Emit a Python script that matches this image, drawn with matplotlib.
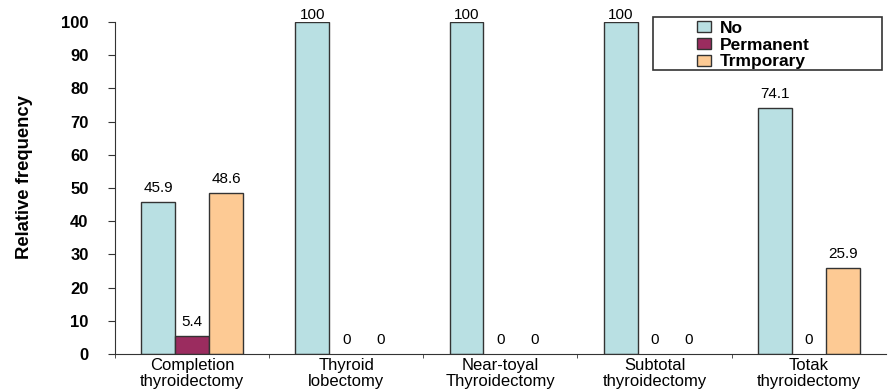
import matplotlib
matplotlib.use("Agg")
import matplotlib.pyplot as plt
from matplotlib.patches import Rectangle
import numpy as np

categories = ["Completion\nthyroidectomy", "Thyroid\nlobectomy", "Near-toyal\nThyroidectomy",
              "Subtotal\nthyroidectomy", "Totak\nthyroidectomy"]
series_names = ["No", "Permanent", "Trmporary"]
no_vals = [45.9, 100, 100, 100, 74.1]
permanent_vals = [5.4, 0, 0, 0, 0]
temporary_vals = [48.6, 0, 0, 0, 25.9]
value_labels = [["45.9", "100", "100", "100", "74.1"],
                ["5.4", "0", "0", "0", "0"],
                ["48.6", "0", "0", "0", "25.9"]]
yticks = [0, 10, 20, 30, 40, 50, 60, 70, 80, 90, 100]
colors = ["#b9e0e3", "#9b2c5f", "#fdca94"]

plt.rcParams['font.family'] = ['Liberation Sans', 'DejaVu Sans']

fig = plt.figure(figsize=(8.88, 3.92), dpi=100)
ax = fig.add_axes([0.1295, 0.097, 0.868, 0.847])

x = np.arange(len(categories))
w = 0.22
series = [no_vals, permanent_vals, temporary_vals]
for i, (vals, c, name) in enumerate(zip(series, colors, series_names)):
    pos = x + (i - 1) * w
    lws = [1.0 if v > 0 else 0.0 for v in vals]
    ax.bar(pos, vals, width=w, color=c, edgecolor="#333333", linewidth=lws, label=name)
    for p, v, lab in zip(pos, vals, value_labels[i]):
        off = 5 if v < 95 else 0
        ax.annotate(lab, (p, v), xytext=(0, off), textcoords="offset points",
                    ha="center", va="bottom", fontsize=11, annotation_clip=False)

ax.set_xlim(-0.5, len(categories) - 0.5)
ax.set_ylim(0, 100)
ax.set_yticks(yticks)
ax.set_yticklabels([str(t) for t in yticks], fontweight="bold", fontsize=12)
ax.set_xticks(x)
ax.set_xticklabels(categories, fontsize=12, linespacing=1.05)
ax.tick_params(axis="x", length=0, pad=3)
ax.set_xticks(np.arange(-0.5, len(categories) - 0.5, 1), minor=True)
ax.tick_params(axis="x", which="minor", length=3, direction="out", color="#333333")
ax.tick_params(axis="y", length=5, direction="out", pad=14, color="#333333")
for s in ["top", "right"]:
    ax.spines[s].set_visible(False)
ax.spines["left"].set_color("#333333")
ax.spines["bottom"].set_color("#333333")
ax.set_ylabel("Relative frequency", fontweight="bold", fontsize=13.3)
ax.yaxis.set_label_coords(33 / 888, 1 - 177 / 392, transform=fig.transFigure)

leg = ax.legend(loc="upper left", bbox_to_anchor=(697 / 888, 1 - 21 / 392),
                bbox_transform=fig.transFigure, frameon=False,
                prop={"weight": "bold", "size": 12.5},
                handlelength=0.8, handleheight=0.6, labelspacing=0.1,
                borderpad=0.0, handletextpad=0.5, borderaxespad=0)
for h in leg.legend_handles:
    h.set_edgecolor("#333333")
    h.set_linewidth(1.0)
fig.patches.append(Rectangle((653 / 888, 1 - 70 / 392), (882 - 653) / 888, 53 / 392,
                             transform=fig.transFigure, fill=False,
                             edgecolor="#333333", linewidth=1.2))
fig.savefig("out.png", dpi=100)
